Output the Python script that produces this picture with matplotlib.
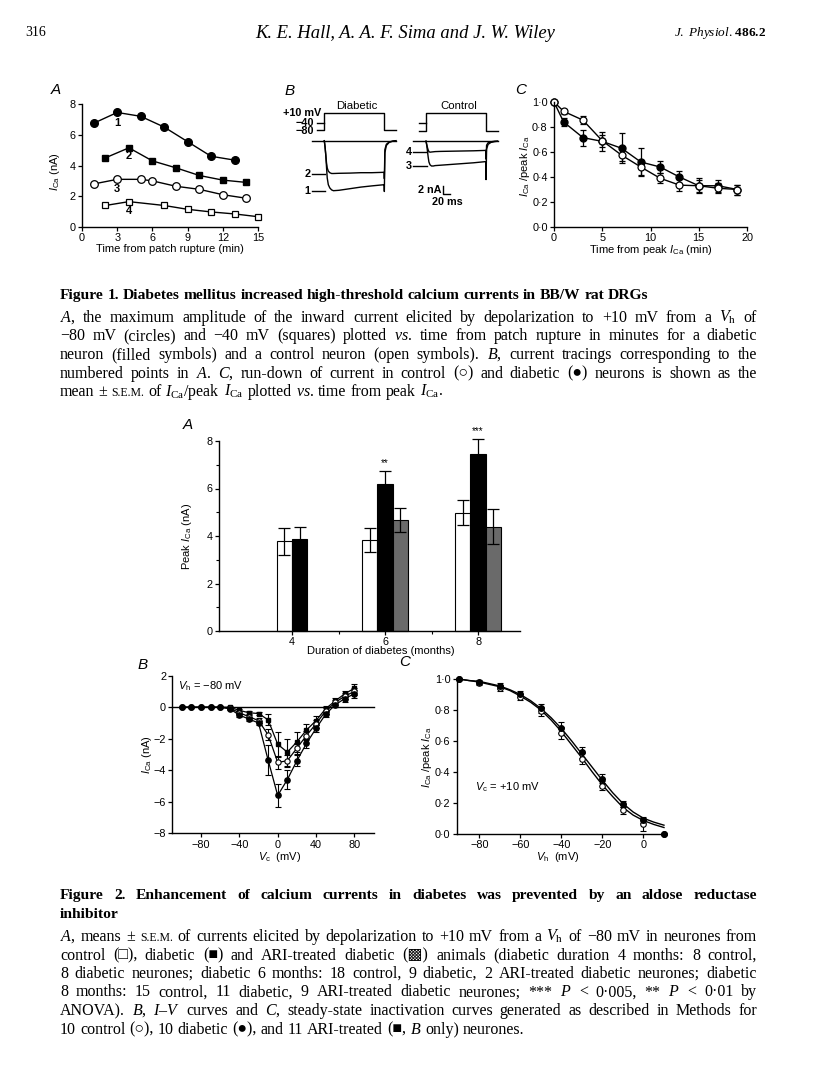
import numpy as np
import matplotlib
matplotlib.use('Agg')
import matplotlib.pyplot as plt
from matplotlib.ticker import FuncFormatter
from matplotlib.transforms import IdentityTransform

plt.rcParams['font.family'] = 'Liberation Sans'
plt.rcParams['mathtext.fontset'] = 'custom'
plt.rcParams['mathtext.rm'] = 'Liberation Serif'
plt.rcParams['mathtext.it'] = 'Liberation Serif:italic'
plt.rcParams['mathtext.bf'] = 'Liberation Serif:bold'
plt.rcParams['mathtext.sf'] = 'Liberation Sans'
plt.rcParams['mathtext.cal'] = 'Liberation Sans:italic'

# ---------------- data ----------------
# Figure 1A: I_Ca (nA) vs time from patch rupture (min)
t_1 = [1, 3, 5, 7, 9, 11, 13]
i_1 = [6.75, 7.45, 7.2, 6.5, 5.55, 4.6, 4.35]
t_2 = [2, 4, 6, 8, 10, 12, 14]
i_2 = [4.5, 5.15, 4.3, 3.85, 3.35, 3.05, 2.9]
t_3 = [1, 3, 5, 6, 8, 10, 12, 14]
i_3 = [2.8, 3.1, 3.1, 3.0, 2.65, 2.45, 2.1, 1.87]
t_4 = [2, 4, 7, 9, 11, 13, 15]
i_4 = [1.4, 1.65, 1.4, 1.15, 0.98, 0.85, 0.67]
lab_x = [3.0, 4.0, 2.95, 4.0]
lab_y = [6.78, 4.62, 2.49, 1.06]

# Figure 1B: voltage protocol (ms, mV) and current tracings (ms, nA)
step_t = [-20, 0, 0, 164, 164, 196]
step_v = [-80, -80, 10, 10, -80, -80]
hold_t = [-20, 0]
hold_v = [-40, -40]
tr_t = [0, 2, 4, 6, 8, 11, 15, 20, 25, 40, 70, 100, 130, 164, 164.5, 166, 170, 178, 188, 196]
tr_1 = [0, -1.5, -3.5, -6.5, -9.3, -11.0, -11.8, -12.3, -12.5, -12.4, -12.0, -11.6, -11.3, -11.0,
        -12.7, -3.0, -1.2, -0.4, -0.1, 0]
tr_2 = [0, -1.5, -3.5, -5.5, -6.8, -7.6, -8.0, -8.2, -8.2, -8.15, -8.1, -8.0, -8.0, -7.9,
        -9.5, -2.2, -0.9, -0.3, -0.1, 0]
tr_3 = [0, -1.0, -2.5, -4.0, -5.2, -5.9, -6.2, -6.2, -6.1, -6.0, -5.8, -5.6, -5.4, -5.1,
        -9.6, -2.0, -0.8, -0.3, -0.1, 0]
tr_4 = [0, -0.8, -1.6, -2.2, -2.6, -2.75, -2.7, -2.65, -2.6, -2.55, -2.5, -2.45, -2.4, -2.3,
        -4.5, -1.0, -0.4, -0.15, 0, 0]

# Figure 1C: run-down, I_Ca / peak I_Ca vs time from peak (min)
tc = [0, 1, 3, 5, 7, 9, 11, 13, 15, 17, 19]
ctrl_rel = [1.0, 0.925, 0.855, 0.69, 0.575, 0.48, 0.39, 0.335, 0.33, 0.31, 0.3]
ctrl_sem = [0, 0.02, 0.03, 0.05, 0.05, 0.06, 0.04, 0.05, 0.05, 0.04, 0.04]
diab_rel = [1.0, 0.84, 0.715, 0.685, 0.63, 0.52, 0.48, 0.4, 0.33, 0.33, 0.3]
diab_sem = [0, 0.03, 0.065, 0.075, 0.12, 0.11, 0.05, 0.05, 0.06, 0.05, 0.04]

# Figure 2A: peak I_Ca (nA) by duration of diabetes (months)
months = [4, 6, 8]
bar_ctrl = [3.78, 3.83, 4.98]
sem_ctrl = [0.56, 0.5, 0.52]
bar_diab = [3.86, 6.2, 7.45]
sem_diab = [0.54, 0.55, 0.65]
bar_ari = [np.nan, 4.68, 4.4]
sem_ari = [np.nan, 0.5, 0.72]
stars = ['', '**', '***']

# Figure 2B: I-V curves
vc = [-100, -90, -80, -70, -60, -50, -40, -30, -20, -10, 0, 10, 20, 30, 40, 50, 60, 70, 80]
iv_ctrl = [0, 0, 0, 0, 0, -0.05, -0.35, -0.6, -0.85, -1.75, -3.5, -3.4, -2.6, -1.8, -1.05, -0.25, 0.3, 0.7, 1.0]
iv_ctrl_sem = [0, 0, 0, 0, 0, 0.05, 0.1, 0.1, 0.15, 0.35, 0.4, 0.4, 0.35, 0.3, 0.25, 0.2, 0.15, 0.2, 0.25]
iv_diab = [0, 0, 0, 0, 0, -0.1, -0.5, -0.75, -1.0, -3.35, -5.6, -4.6, -3.4, -2.3, -1.35, -0.45, 0.15, 0.55, 0.85]
iv_diab_sem = [0, 0, 0, 0, 0, 0.05, 0.1, 0.1, 0.15, 0.95, 0.75, 0.6, 0.35, 0.3, 0.25, 0.2, 0.15, 0.2, 0.25]
iv_ari = [0, 0, 0, 0, 0, 0.0, -0.2, -0.35, -0.4, -0.8, -2.35, -2.85, -2.2, -1.45, -0.85, -0.1, 0.4, 0.85, 1.2]
iv_ari_sem = [0, 0, 0, 0, 0, 0.05, 0.1, 0.1, 0.1, 0.35, 0.8, 0.85, 0.65, 0.4, 0.3, 0.2, 0.2, 0.2, 0.3]

# Figure 2C: steady-state inactivation
vh = [-90, -80, -70, -60, -50, -40, -30, -20, -10, 0, 10]
diab_inact = [1.0, 0.98, 0.955, 0.905, 0.81, 0.685, 0.525, 0.355, 0.19, 0.09, 0.0]
diab_inact_sem = [0.0, 0.015, 0.02, 0.02, 0.03, 0.035, 0.035, 0.03, 0.02, 0.02, 0.0]
ctrl_inact = [1.0, 0.975, 0.94, 0.885, 0.79, 0.65, 0.485, 0.31, 0.15, 0.06, 0.0]
ctrl_inact_sem = [0.0, 0.015, 0.02, 0.02, 0.03, 0.04, 0.035, 0.03, 0.025, 0.04, 0.0]
vfit = [-90, -85, -80, -75, -70, -65, -60, -55, -50, -45, -40, -35, -30, -25, -20, -15, -10, -5, 0, 5, 10]
fit_diab = [1.0, 0.99, 0.985, 0.97, 0.955, 0.93, 0.9, 0.86, 0.81, 0.75, 0.68, 0.6, 0.515, 0.43,
            0.345, 0.265, 0.195, 0.14, 0.1, 0.075, 0.055]
fit_ctrl = [1.0, 0.99, 0.98, 0.965, 0.95, 0.925, 0.89, 0.85, 0.8, 0.735, 0.66, 0.575, 0.49, 0.4,
            0.315, 0.24, 0.17, 0.12, 0.085, 0.06, 0.04]

# ---------------- figure ----------------
W, H = 816, 1088
fig = plt.figure(figsize=(W / 100, H / 100), dpi=100)
SERIF = ['Liberation Serif', 'DejaVu Serif', 'DejaVu Sans']
LAB = 8
TICK = 7.8


def px_axes(l, t, r, b):
    return fig.add_axes([l / W, 1 - b / H, (r - l) / W, (b - t) / H])


def ftext(x, y, s, **kw):
    return fig.text(x / W, 1 - y / H, s, **kw)


def style(ax):
    for sp in ['top', 'right']:
        ax.spines[sp].set_visible(False)
    for sp in ['left', 'bottom']:
        ax.spines[sp].set_linewidth(1.0)
    ax.tick_params(direction='out', length=3, width=0.9, labelsize=TICK, pad=1.5)
    ax.patch.set_alpha(0)


def noclip(ax):
    for a in ax.get_children():
        a.set_clip_on(False)


dot = FuncFormatter(lambda v, p: f'{v:.1f}'.replace('.', '\u00b7'))
ICA = r'$\mathcal{I}_{\mathsf{Ca}}$'
MINUS = '\u2212'

# ---- Figure 1A
ax = px_axes(82, 104, 258, 227)
style(ax)
ax.plot(t_1, i_1, '-o', color='k', mfc='k', ms=5.5, lw=1)
ax.plot(t_2, i_2, '-s', color='k', mfc='k', ms=5, lw=1)
ax.plot(t_3, i_3, '-o', color='k', mfc='white', mew=0.9, ms=5.5, lw=1)
ax.plot(t_4, i_4, '-s', color='k', mfc='white', mew=0.9, ms=5, lw=1)
for k in range(4):
    ax.text(lab_x[k], lab_y[k], str(k + 1), ha='center', va='center', fontsize=8, fontweight='bold')
ax.set_xlim(0, 15)
ax.set_ylim(0, 8)
ax.set_xticks(range(0, 16, 3))
ax.set_yticks(range(0, 9, 2))
noclip(ax)
ftext(170, 249, 'Time from patch rupture (min)', ha='center', va='center', fontsize=LAB)
ftext(55, 172, ICA + ' (nA)', ha='center', va='center', rotation=90, fontsize=LAB)
ftext(56, 90, 'A', fontsize=11, style='italic', ha='center', va='center')

# ---- Figure 1B
ftext(290, 91, 'B', fontsize=11, style='italic', ha='center', va='center')
for t0, base, top_v, name, idx, lev in [(324.3, 140.7, 113, 'Diabetic', (0, 1), (-12.6, -8.3)),
                                         (426.0, 141.2, 113.3, 'Control', (2, 3), (-6.3, -2.8))]:
    left = t0 - 45 * 0.365
    right = left + 245 * 0.365
    pa = px_axes(left, top_v - 10 * 0.192, right, top_v + 100 * 0.192)
    pa.plot(step_t, step_v, color='k', lw=1)
    pa.plot(hold_t, hold_v, color='k', lw=1)
    pa.set_xlim(-45, 200)
    pa.set_ylim(-90, 20)
    pa.axis('off')
    ca = px_axes(left, base - 4, right, base + 64)
    traces = [tr_1, tr_2, tr_3, tr_4]
    for j, lv in zip(idx, lev):
        ca.plot(tr_t, traces[j], color='k', lw=1)
        ca.plot([-35, 2], [lv, lv], color='k', lw=1)
        ca.text(-38, lv, str(j + 1), ha='right', va='center', fontsize=7.8, fontweight='bold')
    ca.plot([-35, 196], [0, 0], color='k', lw=1)
    ca.set_xlim(-45, 200)
    ca.set_ylim(-16, 1)
    ca.axis('off')
    ftext((left + right) / 2 + 4, 106, name, ha='center', va='center', fontsize=8.2)
    if name == 'Diabetic':
        pa.text(-7, 10, '+10 mV', ha='right', va='center', fontsize=7.8, fontweight='bold')
        pa.text(-28, -40, MINUS + '40', ha='right', va='center', fontsize=7.8, fontweight='bold')
        pa.text(-28, -86, MINUS + '80', ha='right', va='center', fontsize=7.8, fontweight='bold')
    else:
        ca.plot([47, 47, 67], [-11.25, -13.25, -13.25], color='k', lw=1)
        ca.text(43, -12.2, '2 nA', ha='right', va='center', fontsize=7.8, fontweight='bold')
        ca.text(58, -15.3, '20 ms', ha='center', va='center', fontsize=7.8, fontweight='bold')
    noclip(pa)
    noclip(ca)

# ---- Figure 1C
ax = px_axes(554, 102, 747, 227)
style(ax)
ax.errorbar(tc, diab_rel, yerr=diab_sem, fmt='-o', color='k', mfc='k', ms=5, lw=1,
            elinewidth=0.9, capsize=2.5, capthick=0.9)
ax.errorbar(tc, ctrl_rel, yerr=ctrl_sem, fmt='-o', color='k', mfc='white', ms=5, lw=1,
            elinewidth=0.9, capsize=2.5, capthick=0.9, mew=0.9)
ax.set_xlim(0, 20)
ax.set_ylim(0, 1.0)
ax.set_xticks([0, 5, 10, 15, 20])
ax.set_yticks([0, 0.2, 0.4, 0.6, 0.8, 1.0])
ax.yaxis.set_major_formatter(dot)
noclip(ax)
ftext(651, 250, r'Time from peak $\mathcal{I}_{\mathsf{Ca}}$ (min)', ha='center', va='center', fontsize=LAB)
ftext(525, 166, ICA + r' /peak $\mathcal{I}_{\mathsf{Ca}}$', ha='center', va='center', rotation=90, fontsize=LAB)
ftext(521, 90, 'C', fontsize=11, style='italic', ha='center', va='center')

# ---- Figure 2A
ax = px_axes(219, 441, 520, 631)
style(ax)
w = 0.33
for i, m in enumerate(months):
    group = [(bar_ctrl[i], sem_ctrl[i], 'white'), (bar_diab[i], sem_diab[i], 'black'),
             (bar_ari[i], sem_ari[i], '#6a6a6a')]
    group = [g for g in group if not np.isnan(g[0])]
    offs = (np.arange(len(group)) - (len(group) - 1) / 2) * w
    for (v, s, c), o in zip(group, offs):
        ax.bar(m + o, v, w, color=c, edgecolor='k', lw=0.8, yerr=s, capsize=4,
               error_kw=dict(lw=0.9, capthick=0.9, ecolor='k'))
    if stars[i]:
        ax.text(m, bar_diab[i] + sem_diab[i] + 0.12, stars[i], ha='center', va='bottom', fontsize=7)
ax.set_xlim(2.43, 8.9)
ax.set_ylim(0, 8)
ax.set_xticks(months)
ax.set_xticks([5, 7], minor=True)
ax.set_yticks(range(0, 9, 2))
ax.set_yticks([1, 3, 5, 7], minor=True)
ax.tick_params(which='minor', direction='out', length=2.5, width=0.8)
ax.tick_params(axis='x', pad=1)
noclip(ax)
ftext(381, 651, 'Duration of diabetes (months)', ha='center', va='center', fontsize=LAB)
ftext(187, 536, r'Peak $\mathcal{I}_{\mathsf{Ca}}$ (nA)', ha='center', va='center', rotation=90, fontsize=LAB)
ftext(188, 425, 'A', fontsize=11, style='italic', ha='center', va='center')

# ---- Figure 2B
ax = px_axes(172.3, 675.7, 373.5, 833.3)
style(ax)
ax.axhline(0, color='k', lw=1)
ek = dict(lw=0.9, elinewidth=0.8, capsize=2, capthick=0.8, color='k')
ax.errorbar(vc, iv_ari, yerr=iv_ari_sem, fmt='-s', mfc='k', ms=3.5, **ek)
ax.errorbar(vc, iv_ctrl, yerr=iv_ctrl_sem, fmt='-o', mfc='white', ms=3.8, mew=0.8, **ek)
ax.errorbar(vc, iv_diab, yerr=iv_diab_sem, fmt='-o', mfc='k', ms=3.8, **ek)
ax.set_xlim(-110, 100)
ax.set_ylim(-8, 2)
ax.set_xticks([-80, -40, 0, 40, 80])
ax.set_yticks(range(-8, 3, 2))
ax.text(-104, 1.35, r'$\mathcal{V}_{\mathsf{h}}$ = ' + MINUS + '80 mV', ha='left', va='center', fontsize=LAB)
noclip(ax)
ftext(280, 857, r'$\mathcal{V}_{\mathsf{c}}$  (mV)', ha='center', va='center', fontsize=LAB)
ftext(147, 755, ICA + ' (nA)', ha='center', va='center', rotation=90, fontsize=LAB)
ftext(143, 665, 'B', fontsize=11, style='italic', ha='center', va='center')

# ---- Figure 2C
ax = px_axes(456.7, 679, 665, 833.7)
style(ax)
ax.plot(vfit, fit_diab, color='k', lw=1)
ax.plot(vfit, fit_ctrl, color='k', lw=1)
ek = dict(fmt='o', color='k', elinewidth=0.8, capsize=2, capthick=0.8, ms=4)
ax.errorbar(vh, ctrl_inact, yerr=ctrl_inact_sem, mfc='white', mew=0.8, **ek)
ax.errorbar(vh, diab_inact, yerr=diab_inact_sem, mfc='k', **ek)
ax.set_xlim(-91, 10.5)
ax.set_ylim(0, 1.0)
ax.set_xticks([-80, -60, -40, -20, 0])
ax.set_yticks([0, 0.2, 0.4, 0.6, 0.8, 1.0])
ax.yaxis.set_major_formatter(dot)
ax.text(-82, 0.3, r'$\mathcal{V}_{\mathsf{c}}$ = +10 mV', ha='left', va='center', fontsize=LAB)
noclip(ax)
ftext(558, 857, r'$\mathcal{V}_{\mathsf{h}}$  (mV)', ha='center', va='center', fontsize=LAB)
ftext(427, 757, ICA + r' /peak $\mathcal{I}_{\mathsf{Ca}}$', ha='center', va='center', rotation=90, fontsize=LAB)
ftext(405, 662, 'C', fontsize=11, style='italic', ha='center', va='center')

# ---------------- page text ----------------
renderer = fig.canvas.get_renderer()


def word_artists(line, size, weight='normal'):
    objs = []
    for wd in line.split(' '):
        s = size * 0.74 if wd == 'S.E.M.' else size
        objs.append(fig.text(0, 0, wd, fontsize=s, family=SERIF, weight=weight,
                             transform=IdentityTransform(), va='baseline'))
    return objs


def words_width(line, size, weight='normal'):
    objs = word_artists(line, size, weight)
    total = sum(o.get_window_extent(renderer).width for o in objs)
    for o in objs:
        o.remove()
    return total, len(objs)


def natural_width(line, size, weight='normal', style_='normal'):
    t = fig.text(0, 0, line, fontsize=size, family=SERIF, weight=weight, style=style_,
                 transform=IdentityTransform())
    wd = t.get_window_extent(renderer).width
    t.remove()
    return wd


def set_line(line, y, size, x0=60, x1=757, justify=True, weight='normal'):
    objs = word_artists(line, size, weight)
    widths = [o.get_window_extent(renderer).width for o in objs]
    gap = (x1 - x0 - sum(widths)) / (len(objs) - 1) if justify else size * 100 / 72 * 0.25
    x = x0
    for o, wd in zip(objs, widths):
        o.set_position((x, H - y))
        x += wd + gap


cap1_title = 'Figure 1. Diabetes mellitus increased high-threshold calcium currents in BB/W rat DRGs'
cap1 = [r'$A$, the maximum amplitude of the inward current elicited by depolarization to +10 mV from a $V_\mathrm{h}$ of',
        MINUS + '80 mV (circles) and ' + MINUS + '40 mV (squares) plotted $vs.$ time from patch rupture in minutes for a diabetic',
        r'neuron (filled symbols) and a control neuron (open symbols). $B$, current tracings corresponding to the',
        'numbered points in $A$. $C$, run-down of current in control (\u25cb) and diabetic (\u25cf) neurons is shown as the',
        r'mean ± S.E.M. of $I_\mathrm{Ca}$/peak $I_\mathrm{Ca}$ plotted $vs.$ time from peak $I_\mathrm{Ca}$.']
cap2_title = ['Figure 2. Enhancement of calcium currents in diabetes was prevented by an aldose reductase',
              'inhibitor']
cap2 = [r'$A$, means ± S.E.M. of currents elicited by depolarization to +10 mV from a $V_\mathrm{h}$ of ' + MINUS + '80 mV in neurones from',
        'control (\u25a1), diabetic (\u25a0) and ARI-treated diabetic (\u25a9) animals (diabetic duration 4 months: 8 control,',
        '8 diabetic neurones; diabetic 6 months: 18 control, 9 diabetic, 2 ARI-treated diabetic neurones; diabetic',
        r'8 months: 15 control, 11 diabetic, 9 ARI-treated diabetic neurones; *** $P$ < 0·005, ** $P$ < 0·01 by',
        r'ANOVA). $B$, $I$–$V$ curves and $C$, steady-state inactivation curves generated as described in Methods for',
        r'10 control (○), 10 diabetic (●), and 11 ARI-treated (■, $B$ only) neurones.']

# largest body size that still leaves a 2.6 px gap between words on every justified line
body = 11.5
for ln in cap1[:-1] + cap2[:-1]:
    tot, n = words_width(ln, 11.5)
    body = min(body, 11.5 * (697 - (n - 1) * 2.6) / tot)
ttl = 10 * 588 / natural_width(cap1_title, 10, 'bold')
tot, n = words_width(cap2_title[0], 10, 'bold')
ttl = min(ttl, 10 * (697 - (n - 1) * 3) / tot)

set_line(cap1_title, 299, ttl, justify=False, weight='bold')
for k, ln in enumerate(cap1):
    set_line(ln, 322 + 18.5 * k, body, justify=k < len(cap1) - 1)
set_line(cap2_title[0], 899, ttl, weight='bold')
set_line(cap2_title[1], 917.5, ttl, justify=False, weight='bold')
for k, ln in enumerate(cap2):
    set_line(ln, 941 + 18.5 * k, body, justify=k < len(cap2) - 1)

# running head
head = 'K. E. Hall, A. A. F. Sima and J. W. Wiley'
hs = 10 * 301 / natural_width(head, 10, style_='italic')
ftext(25, 33, '316', family=SERIF, fontsize=10, ha='left', va='center')
ftext(405.5, 33, head, family=SERIF, fontsize=hs, style='italic', ha='center', va='center')
ftext(766, 33, r'$\mathit{J.\ Physiol.}\,\mathbf{486.2}$', fontsize=9.5, ha='right', va='center')

fig.savefig('out.png', dpi=100)
